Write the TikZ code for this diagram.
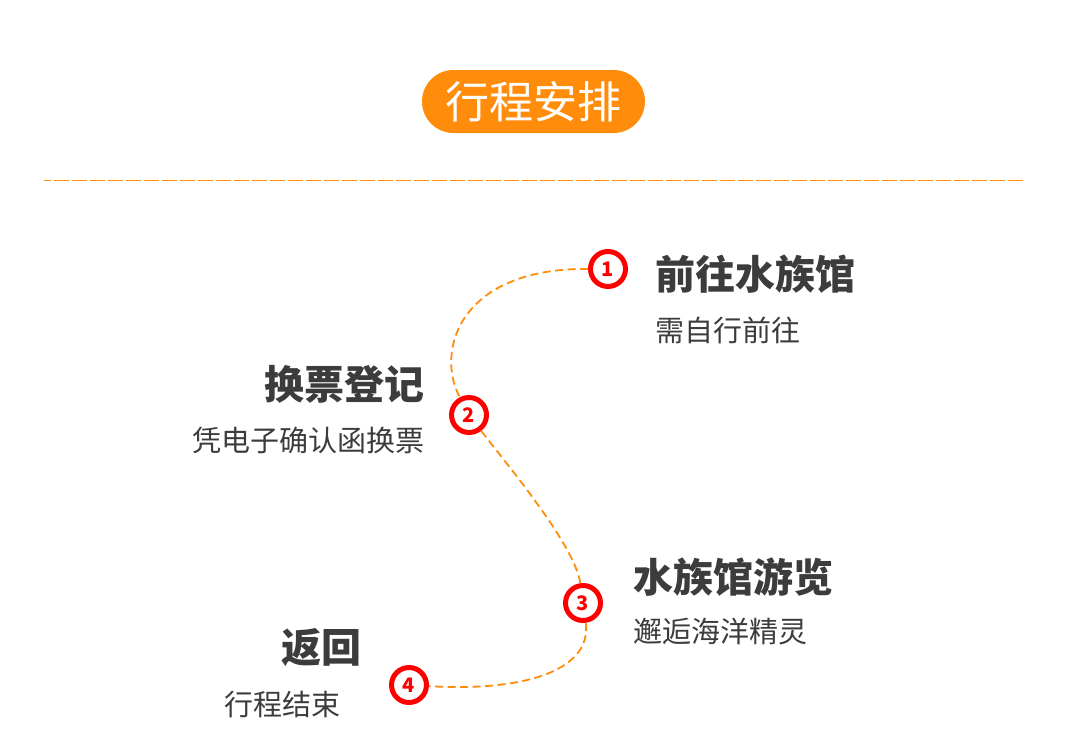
\documentclass[tikz,border=0pt]{standalone}
\usepackage{fontspec}
\setmainfont{Noto Sans CJK SC}
\definecolor{tourorange}{HTML}{FF8C0A}
\definecolor{markred}{HTML}{FF0000}
\definecolor{textgray}{HTML}{3C3C3C}

\begin{document}
\begin{tikzpicture}[x=1pt, y=-1pt,
station/.style={circle, draw=markred, line width=5pt, fill=white, minimum size=35pt, inner sep=0pt, text=markred, font=\bfseries\fontsize{20}{20}\selectfont},
route/.style={draw=tourorange, line width=1.8pt, dash pattern=on 8pt off 4.5pt}]
\tikzstyle{head}=[inner sep=0pt, text=textgray, font=\bfseries\fontsize{40}{40}\selectfont]
\tikzstyle{note}=[inner sep=0pt, text=textgray, font=\fontsize{29}{29}\selectfont]
\useasboundingbox (0,0) rectangle (1080,748);

%Title
\node [fill=tourorange, text=white, rounded corners=31.5pt, minimum width=223pt, minimum height=63pt, inner sep=0pt, font=\fontsize{44}{44}\selectfont] (title) at (533.5,101.5) {行程安排};
\coordinate (rulel) at (44,180.5);
\coordinate (ruler) at (1024,180.5);
\draw [tourorange, line width=1.2pt, dash pattern=on 15pt off 3pt, dash phase=8pt] (rulel) -- (ruler);

%Stops
\node [station] (s1) at (608,269) {1};
\node [station] (s2) at (469,415) {2};
\node [station] (s3) at (583,603) {3};
\node [station] (s4) at (409,685) {4};

%Route
\draw [route] (s1) .. controls (460,268) and (435,350) .. (s2);
\draw [route] (s2) .. controls (505,462) and (575,545) .. (s3);
\draw [route] (s3) .. controls (592,668) and (530,692) .. (s4);

%Labels
\node [head, anchor=west] (h1) at (655,274) {前往水族馆};
\node [note, anchor=west] (d1) at (655,330) {需自行前往};
\node [head, anchor=east] (h2) at (425,384) {换票登记};
\node [note, anchor=east] (d2) at (425,440) {凭电子确认函换票};
\node [head, anchor=west] (h3) at (633,577) {水族馆游览};
\node [note, anchor=west] (d3) at (633,632) {邂逅海洋精灵};
\node [head, anchor=east] (h4) at (362,648) {返回};
\node [note, anchor=east] (d4) at (341,704) {行程结束};
\end{tikzpicture}
\end{document}
